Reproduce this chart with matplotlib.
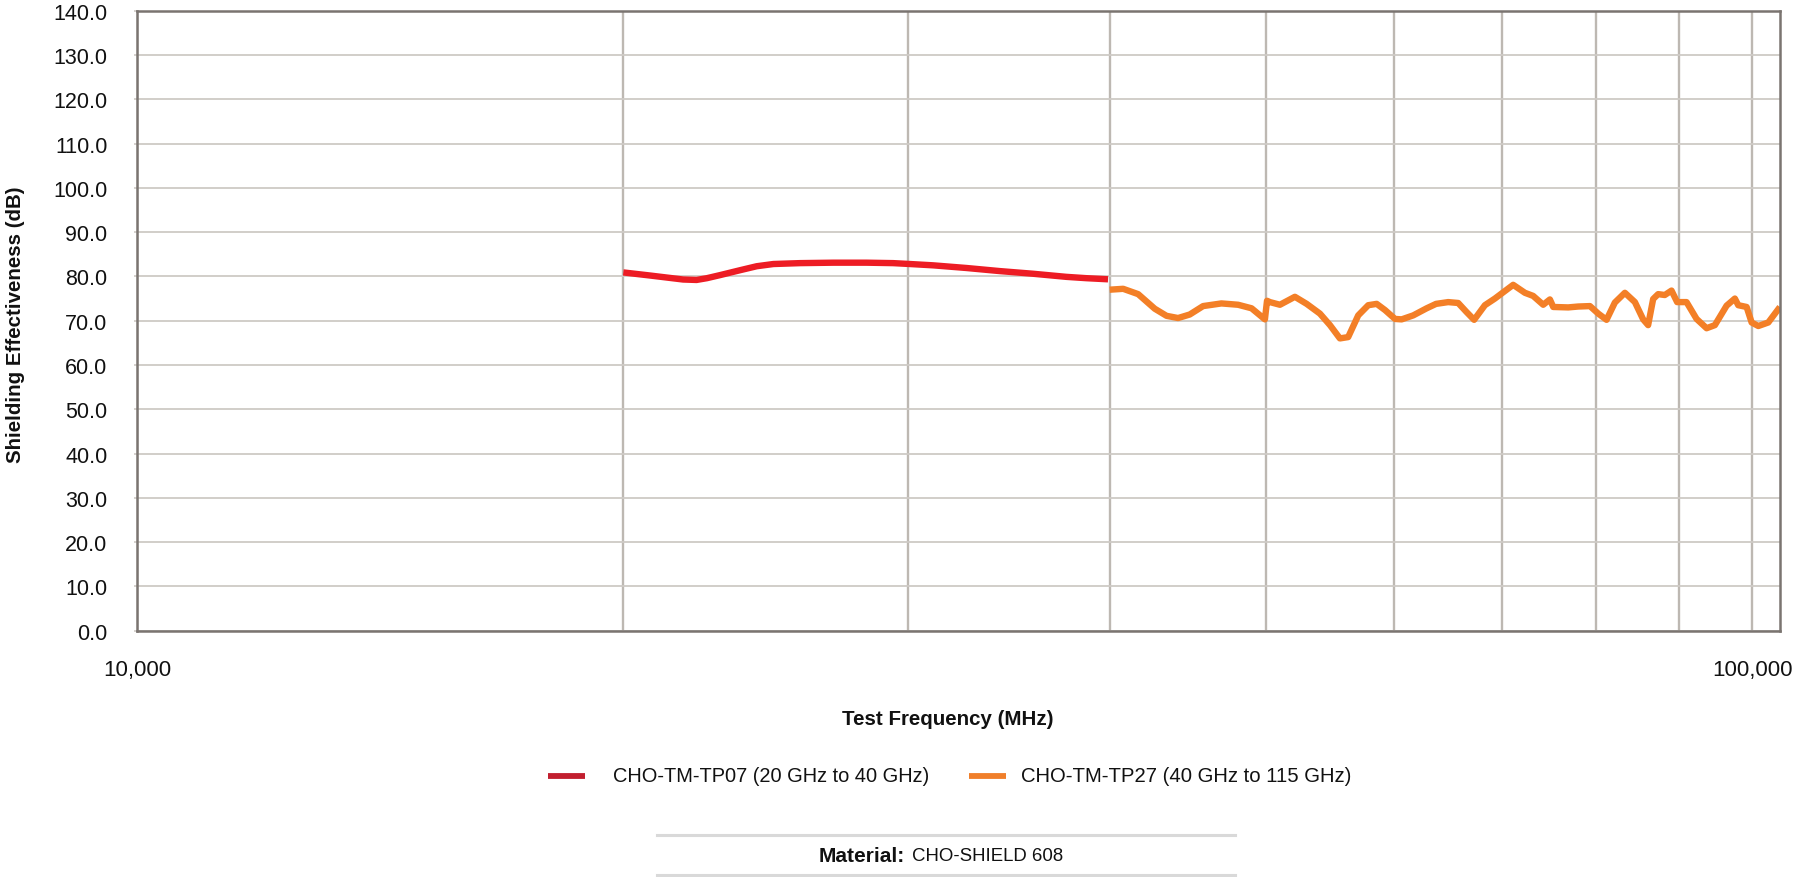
import matplotlib
matplotlib.use('Agg')
import matplotlib.pyplot as plt
from matplotlib.lines import Line2D
from matplotlib.ticker import FixedLocator, FixedFormatter, NullFormatter

plt.rcParams['font.family'] = ['Liberation Sans', 'DejaVu Sans']

# ---------------- data ----------------
red_freq = [20000, 20780, 21780, 22200, 22530, 22960, 23620, 24190, 24770, 25730,
            26980, 28290, 29380, 30090, 31110, 32620, 34210, 35870, 37610, 38700, 39910]
red_se = [80.9, 80.2, 79.3, 79.2, 79.6, 80.3, 81.4, 82.3, 82.8, 83.0,
          83.1, 83.1, 83.0, 82.8, 82.5, 81.9, 81.2, 80.6, 79.9, 79.6, 79.35]

orange_freq = [40000, 40780, 41660, 42660, 43380, 44100, 44840, 45700, 46910, 48040,
               48970, 49910, 50060, 50270, 50990, 52090, 52970, 53980, 54760, 55540,
               56200, 57010, 57830, 58530, 59230, 60080, 60650, 61660, 62850, 63700,
               64810, 65740, 66510, 67250, 68290, 69270, 71100, 72300, 73150, 74210,
               74920, 75280, 76900, 78000, 79320, 80270, 81220, 82190, 83370, 84570,
               85570, 86180, 86800, 87420, 88250, 89100, 89820, 91030, 92340, 93670,
               94780, 96380, 97520, 97990, 99170, 99880, 100830, 102280, 103990]
orange_se = [77.0, 77.2, 76.0, 72.7, 71.1, 70.6, 71.4, 73.3, 73.9, 73.6,
             72.8, 70.3, 74.5, 74.2, 73.6, 75.4, 73.8, 71.6, 69.0, 66.0,
             66.3, 71.2, 73.5, 73.8, 72.4, 70.4, 70.3, 71.2, 72.8, 73.8,
             74.2, 74.0, 72.0, 70.2, 73.5, 75.0, 78.1, 76.3, 75.6, 73.6,
             74.8, 73.1, 73.0, 73.2, 73.3, 71.6, 70.2, 74.1, 76.3, 74.2,
             70.3, 69.0, 74.9, 76.0, 75.8, 76.8, 74.2, 74.2, 70.4, 68.3,
             69.0, 73.4, 75.0, 73.5, 73.1, 69.6, 68.8, 69.6, 73.1]

series_labels = ['CHO-TM-TP07 (20 GHz to 40 GHz)', 'CHO-TM-TP27 (40 GHz to 115 GHz)']
y_ticks = [0, 10, 20, 30, 40, 50, 60, 70, 80, 90, 100, 110, 120, 130, 140]
x_major = [10000, 100000]
x_major_labels = ['10,000', '100,000']
x_minor = [20000, 30000, 40000, 50000, 60000, 70000, 80000, 90000]

# ---------------- styling ----------------
W, H = 1793, 878
RED = '#ed1c24'
ORANGE = '#f37f27'
RED_LEG = '#c21f2f'
ORANGE_LEG = '#f07f2a'
GRID_V = '#bdb8b2'
GRID_H = '#cecac5'
SPINE = '#7a7470'
TXT = '#111111'

fig = plt.figure(figsize=(W / 100, H / 100), dpi=100)
ax = fig.add_axes([137 / W, 1 - 631.7 / H, (1780 - 137) / W, (631.7 - 11.7) / H])

ax.set_xscale('log')
ax.set_xlim(10000, 104000)
ax.set_ylim(0, 140)

ax.plot(red_freq, red_se, color=RED, lw=4.6, solid_capstyle='butt',
        solid_joinstyle='round', zorder=3)
ax.plot(orange_freq, orange_se, color=ORANGE, lw=4.6, solid_capstyle='butt',
        solid_joinstyle='round', zorder=3)

ax.xaxis.set_major_locator(FixedLocator(x_major))
ax.xaxis.set_major_formatter(FixedFormatter(x_major_labels))
ax.xaxis.set_minor_locator(FixedLocator(x_minor))
ax.xaxis.set_minor_formatter(NullFormatter())
ax.set_yticks(y_ticks)
ax.set_yticklabels([f'{v:.1f}' for v in y_ticks])

ax.grid(True, axis='x', which='both', color=GRID_V, lw=1.7, zorder=1)
ax.grid(True, axis='y', which='major', color=GRID_H, lw=1.3, zorder=1)
ax.set_axisbelow(True)

ax.tick_params(axis='x', which='both', length=0, pad=20.5, labelsize=16, labelcolor=TXT)
ax.tick_params(axis='y', which='major', length=2.2, width=1.2, color=GRID_H, pad=19,
               labelsize=15.5, labelcolor=TXT)

for s in ax.spines.values():
    s.set_color(SPINE)
    s.set_linewidth(1.8)
    s.set_zorder(4)

# axis titles
fig.text(948 / W, 1 - 720 / H, 'Test Frequency (MHz)', ha='center', va='center',
         fontsize=14.8, fontweight='bold', color=TXT)
fig.text(16 / W, 1 - 325 / H, 'Shielding Effectiveness (dB)', ha='center', va='center',
         rotation=90, fontsize=14.8, fontweight='bold', color=TXT)

# legend (drawn manually to match spacing)
ly = 1 - 776.5 / H
fig.add_artist(Line2D([548 / W, 585 / W], [ly, ly], color=RED_LEG, lw=4.2,
                      transform=fig.transFigure, solid_capstyle='butt'))
fig.text(613 / W, ly, series_labels[0], ha='left', va='center', fontsize=14.4, color=TXT)
fig.add_artist(Line2D([969 / W, 1006 / W], [ly, ly], color=ORANGE_LEG, lw=4.2,
                      transform=fig.transFigure, solid_capstyle='butt'))
fig.text(1021 / W, ly, series_labels[1], ha='left', va='center', fontsize=14.6, color=TXT)

# material box
for yy in (836, 876):
    fig.add_artist(Line2D([657 / W, 1235 / W], [1 - yy / H, 1 - yy / H], color='#d9d9d9',
                          lw=2.2, transform=fig.transFigure))
my = 1 - 856.5 / H
fig.text(905 / W, my, 'Material:', ha='right', va='center', fontsize=15,
         fontweight='bold', color=TXT)
fig.text(912 / W, my, 'CHO-SHIELD 608', ha='left', va='center', fontsize=13.4, color=TXT)

fig.savefig('out.png', dpi=100, facecolor='white')
